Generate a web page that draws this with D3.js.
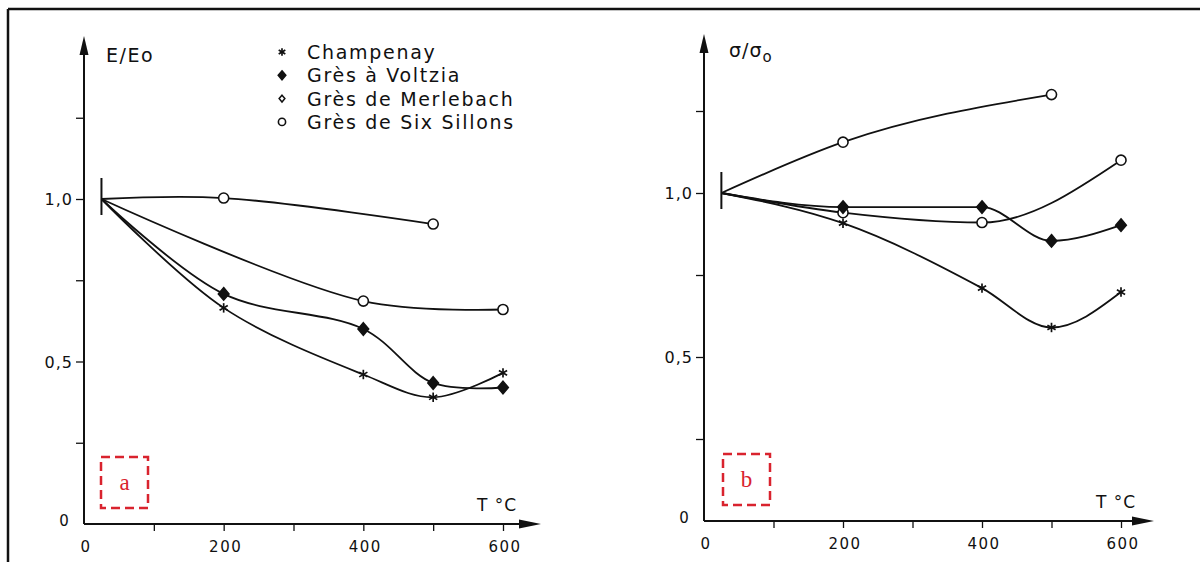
<!DOCTYPE html>
<html>
<head>
<meta charset="utf-8">
<script src="https://cdn.jsdelivr.net/npm/d3@7"></script>
<style>
  html, body { margin: 0; padding: 0; background: #fff; }
  svg { display: block; }
  text { font-family: "DejaVu Sans", sans-serif; fill: #111; }
</style>
</head>
<body>
<svg id="chart" width="1200" height="562"></svg>
<script>
// ---------- DATA ----------
const seriesNames = ["Champenay", "Grès à Voltzia", "Grès de Merlebach", "Grès de Six Sillons"];
const seriesSymbols = ["asterisk", "diamondFilled", "diamondOpen", "circleOpen"];

// Panel a : E/Eo
const champenayT_a = [25, 200, 400, 500, 600];
const champenayE   = [1.0, 0.665, 0.46, 0.39, 0.465];
const voltziaT_a   = [25, 200, 400, 500, 600];
const voltziaE     = [1.0, 0.708, 0.60, 0.434, 0.42];
const merlebachT_a = [25, 400, 600];
const merlebachE   = [1.0, 0.686, 0.66];
const sillonsT_a   = [25, 200, 500];
const sillonsE     = [1.0, 1.003, 0.923];

// Panel b : sigma/sigma0
const champenayT_b = [25, 200, 400, 500, 600];
const champenayS   = [1.0, 0.908, 0.71, 0.59, 0.698];
const voltziaT_b   = [25, 200, 400, 500, 600];
const voltziaS     = [1.0, 0.957, 0.957, 0.854, 0.902];
const merlebachT_b = [25, 200, 400, 600];
const merlebachS   = [1.0, 0.94, 0.91, 1.10];
const sillonsT_b   = [25, 200, 500];
const sillonsS     = [1.0, 1.155, 1.30];

const xTickValues = [100, 200, 300, 400, 500, 600];
const xTickLabels = ["0", "200", "400", "600"];
const xLabelValues = [0, 200, 400, 600];
const yTickValues = [0.25, 0.5, 0.75, 1.0, 1.25];
const yLabelValues = [0.5, 1.0];
const yLabelTexts = ["0,5", "1,0"];

// ---------- DRAW ----------
const svg = d3.select("#chart");
const ink = "#111";

// frame
svg.append("line").attr("x1", 8).attr("x2", 1200).attr("y1", 9).attr("y2", 9)
  .attr("stroke", "#111").attr("stroke-width", 2.5);
svg.append("line").attr("x1", 8).attr("x2", 8).attr("y1", 9).attr("y2", 562)
  .attr("stroke", "#111").attr("stroke-width", 2.5);

function drawMarker(g, type, cx, cy, size) {
  const s = size || 1;
  if (type === "asterisk") {
    const r = 4.5 * s;
    for (let k = 0; k < 3; k++) {
      const a = Math.PI / 2 + k * Math.PI / 3;
      g.append("line")
        .attr("x1", cx - r * Math.cos(a)).attr("y1", cy - r * Math.sin(a))
        .attr("x2", cx + r * Math.cos(a)).attr("y2", cy + r * Math.sin(a))
        .attr("stroke", ink).attr("stroke-width", 1.7);
    }
  } else if (type === "diamondFilled" || type === "diamondOpen") {
    const r = (type === "diamondFilled" ? 6 : 4.5) * s;
    g.append("path")
      .attr("d", `M${cx},${cy - r}L${cx + r * 0.85},${cy}L${cx},${cy + r}L${cx - r * 0.85},${cy}Z`)
      .attr("fill", type === "diamondFilled" ? ink : "#fff")
      .attr("stroke", ink).attr("stroke-width", 1.5);
  } else if (type === "circleOpen" || type === "circlePlot") {
    g.append("circle").attr("cx", cx).attr("cy", cy).attr("r", 4.8 * s)
      .attr("fill", "#fff").attr("stroke", ink).attr("stroke-width", 1.6);
  }
}

function panel(opts) {
  const x = d3.scaleLinear().domain([0, 600]).range([opts.x0, opts.x600]);
  const y = d3.scaleLinear().domain([0, 1]).range([opts.y0, opts.y1]);
  const g = svg.append("g");

  // y axis
  const yAxis = d3.axisLeft(y).tickValues(yTickValues).tickSize(8).tickFormat("");
  const ya = g.append("g").attr("transform", `translate(${x(0)},0)`).call(yAxis);
  ya.select(".domain").remove();
  ya.selectAll(".tick line").attr("stroke", ink).attr("stroke-width", 1.3);
  g.append("line").attr("x1", x(0)).attr("x2", x(0)).attr("y1", y(0)).attr("y2", opts.yTop + 10)
    .attr("stroke", ink).attr("stroke-width", 2);
  g.append("path")
    .attr("d", `M${x(0)},${opts.yTop}L${x(0) + 4.5},${opts.yTop + 19}L${x(0) - 4.5},${opts.yTop + 19}Z`)
    .attr("fill", ink);

  // x axis
  const xAxis = d3.axisBottom(x).tickValues(xTickValues).tickSize(7).tickFormat("");
  const xa = g.append("g").attr("transform", `translate(0,${y(0)})`).call(xAxis);
  xa.select(".domain").remove();
  xa.selectAll(".tick line").attr("stroke", ink).attr("stroke-width", 1.3);
  g.append("line").attr("x1", x(0)).attr("x2", opts.xRight - 10).attr("y1", y(0)).attr("y2", y(0))
    .attr("stroke", ink).attr("stroke-width", 2);
  g.append("path")
    .attr("d", `M${opts.xRight},${y(0)}L${opts.xRight - 22},${y(0) - 4.5}L${opts.xRight - 22},${y(0) + 4.5}Z`)
    .attr("fill", ink);

  // x labels
  g.selectAll(".xl").data(xLabelValues).enter().append("text")
    .attr("x", d => x(d) + 2).attr("y", y(0) + 28)
    .attr("text-anchor", "middle").attr("font-size", 15).attr("letter-spacing", 1.5)
    .text((d, i) => xTickLabels[i]);
  // y labels
  g.selectAll(".yl").data(yLabelValues).enter().append("text")
    .attr("x", x(0) - 11).attr("y", d => y(d) + 6)
    .attr("text-anchor", "end").attr("font-size", 16).attr("letter-spacing", 1)
    .text((d, i) => yLabelTexts[i]);
  g.append("text").attr("x", x(0) - 20).attr("y", y(0) + 2)
    .attr("text-anchor", "middle").attr("font-size", 15).text("0");

  // T °C
  g.append("text").attr("x", opts.tcX).attr("y", y(0) - 13)
    .attr("font-size", 17).attr("letter-spacing", 1).text("T °C");

  // start bar
  g.append("line").attr("x1", x(25)).attr("x2", x(25))
    .attr("y1", y(1) - 21).attr("y2", y(1) + 16)
    .attr("stroke", ink).attr("stroke-width", 2);

  // curves
  const line = d3.line().x(d => x(d[0])).y(d => y(d[1])).curve(opts.curve);
  opts.series.forEach(s => {
    const pts = s.t.map((t, i) => [t, s.v[i]]);
    g.append("path").datum(pts).attr("d", line)
      .attr("fill", "none").attr("stroke", ink).attr("stroke-width", 1.8);
  });
  opts.series.forEach(s => {
    s.t.forEach((t, i) => {
      if (i === 0) return;
      drawMarker(g, s.plotSym, x(t), y(s.v[i]), 1.05);
    });
  });

  // red dashed box
  g.append("rect").attr("x", opts.boxX).attr("y", y(0) - 67).attr("width", 47).attr("height", 51)
    .attr("fill", "none").attr("stroke", "#d9232e").attr("stroke-width", 2.5)
    .attr("stroke-dasharray", "9,5");
  g.append("text").attr("x", opts.boxX + 23.5).attr("y", y(0) - 34)
    .attr("text-anchor", "middle")
    .style("font-family", "'Liberation Serif', serif")
    .attr("font-size", 23).style("fill", "#d9232e").text(opts.letter);

  return { x, y, g };
}

// series drawn in this order so that diamonds sit on top of circles
const pa = panel({
  x0: 84, x600: 503, y0: 524, y1: 199, yTop: 36, xRight: 541, tcX: 477, boxX: 101, letter: "a",
  curve: d3.curveCatmullRom.alpha(0.5),
  series: [
    { t: merlebachT_a, v: merlebachE, plotSym: "circlePlot" },
    { t: sillonsT_a, v: sillonsE, plotSym: "circleOpen" },
    { t: champenayT_a, v: champenayE, plotSym: "asterisk" },
    { t: voltziaT_a, v: voltziaE, plotSym: "diamondFilled" }
  ]
});
pa.g.append("text").attr("x", 106).attr("y", 62).attr("font-size", 19).attr("letter-spacing", 1.5).text("E/Eo");

const pb = panel({
  x0: 704, x600: 1121, y0: 521, y1: 193, yTop: 34, xRight: 1154, tcX: 1096, boxX: 723, letter: "b",
  curve: d3.curveMonotoneX,
  series: [
    { t: merlebachT_b, v: merlebachS, plotSym: "circlePlot" },
    { t: sillonsT_b, v: sillonsS, plotSym: "circleOpen" },
    { t: champenayT_b, v: champenayS, plotSym: "asterisk" },
    { t: voltziaT_b, v: voltziaS, plotSym: "diamondFilled" }
  ]
});
const sig = pb.g.append("text").attr("x", 729).attr("y", 57).attr("font-size", 19).attr("letter-spacing", 1);
sig.append("tspan").text("σ/σ");
sig.append("tspan").attr("dy", 5).attr("font-size", 15).text("o");

// legend
const legend = svg.append("g");
seriesNames.forEach((name, i) => {
  const cy = 52 + i * 23.3;
  drawMarker(legend, seriesSymbols[i], 282, cy, i === 0 ? 0.85 : 0.75);
  legend.append("text").attr("x", 307).attr("y", cy + 7)
    .attr("font-size", 19).attr("letter-spacing", 1.7).text(name);
});
</script>
</body>
</html>
